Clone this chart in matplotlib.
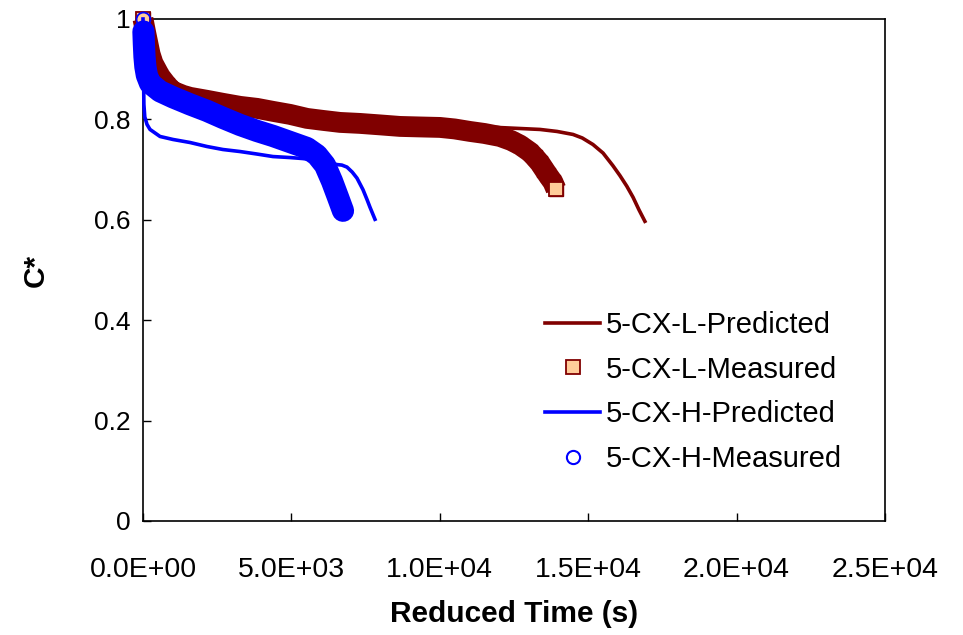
import numpy as np
import matplotlib.pyplot as plt
from matplotlib.lines import Line2D

plt.rcParams['font.family'] = ['Liberation Sans', 'DejaVu Sans']

# 5-CX-L predicted breakthrough curve
t_l_pred = [0, 40, 120, 300, 700, 1500, 3000, 5000, 7000, 9000, 10500, 11930,
            13375, 13950, 14490, 14800, 15160, 15500, 15830, 16070, 16300, 16510,
            16710, 16910]
c_l_pred = [1.000, 0.930, 0.900, 0.880, 0.860, 0.840, 0.825, 0.810, 0.798, 0.790, 0.786,
            0.784, 0.780, 0.776, 0.770, 0.763, 0.750, 0.733, 0.708, 0.688, 0.667, 0.645,
            0.620, 0.597]

# 5-CX-L measured
t_l_meas = [0, 100, 170, 240, 337, 573, 809, 1011, 1348, 1583, 2156, 2695, 3268, 3841,
            4380, 4952, 5525, 6064, 6637, 7311, 8000, 8660, 9300, 10006, 10500, 11017,
            11500, 12027, 12400, 12700, 13038, 13200, 13375, 13520, 13645, 13813, 13914]
c_l_meas = [1.000, 0.970, 0.950, 0.930, 0.912, 0.886, 0.868, 0.856, 0.848, 0.844, 0.838,
            0.832, 0.826, 0.822, 0.816, 0.810, 0.802, 0.798, 0.794, 0.792, 0.789, 0.786,
            0.785, 0.784, 0.781, 0.776, 0.772, 0.766, 0.758, 0.749, 0.735, 0.725, 0.713,
            0.700, 0.689, 0.675, 0.661]

# 5-CX-H predicted
t_h_pred = [0, 15, 30, 60, 135, 236, 573, 1011, 1583, 2156, 2695, 3268, 3841, 4380,
            4952, 5390, 5900, 6300, 6536, 6700, 6873, 7050, 7210, 7412, 7550, 7648, 7816]
c_h_pred = [1.000, 0.900, 0.830, 0.805, 0.790, 0.780, 0.766, 0.760, 0.754, 0.746, 0.740,
            0.736, 0.731, 0.726, 0.724, 0.722, 0.718, 0.714, 0.710, 0.709, 0.705, 0.695,
            0.683, 0.660, 0.640, 0.625, 0.601]

# 5-CX-H measured
t_h_meas = [0, 15, 30, 50, 80, 130, 236, 573, 1011, 1583, 2156, 2695, 3268, 3841,
            4380, 4952, 5525, 5862, 6132, 6367, 6570, 6738]
c_h_meas = [1.000, 0.975, 0.950, 0.925, 0.905, 0.888, 0.872, 0.856, 0.844, 0.830, 0.817,
            0.803, 0.789, 0.777, 0.767, 0.755, 0.743, 0.729, 0.709, 0.677, 0.645, 0.618]

x_ticks = [0, 5000, 10000, 15000, 20000, 25000]
x_labels = ['0.0E+00', '5.0E+03', '1.0E+04', '1.5E+04', '2.0E+04', '2.5E+04']
y_ticks = [0, 0.2, 0.4, 0.6, 0.8, 1.0]
y_labels = ['0', '0.2', '0.4', '0.6', '0.8', '1']

series_names = ['5-CX-L-Predicted', '5-CX-L-Measured', '5-CX-H-Predicted', '5-CX-H-Measured']

DARKRED = '#800000'
PEACH = '#FFCC99'
BLUE = '#0000FF'

fig = plt.figure(figsize=(9.63, 6.35), dpi=100)
ax = fig.add_axes([143 / 963, 114 / 635, 742 / 963, 502 / 635])

# L series: the dense measured squares merge into a solid band
ax.plot(t_l_pred, c_l_pred, color=DARKRED, lw=2.6, zorder=2, clip_on=False)
ax.plot(t_l_meas, c_l_meas, color=DARKRED, lw=15, solid_capstyle='butt',
        solid_joinstyle='round', marker='s', ms=9.5, mfc=DARKRED, mec=DARKRED,
        zorder=3, clip_on=False)
ax.plot([t_l_meas[0], t_l_meas[-1]], [c_l_meas[0], c_l_meas[-1]], ls='none',
        marker='s', ms=9.5, mfc=PEACH, mec=DARKRED, mew=1.3, zorder=3.5, clip_on=False)

# H series
ax.plot(t_h_pred, c_h_pred, color=BLUE, lw=2.6, zorder=4, clip_on=False)
ax.plot(t_h_meas[1:], c_h_meas[1:], color=BLUE, lw=16, solid_capstyle='round',
        solid_joinstyle='round', marker='o', ms=10, mfc=BLUE, mec=BLUE,
        zorder=5, clip_on=False)
ax.plot(t_h_meas[:2], c_h_meas[:2], ls='none', marker='o', ms=10, mfc='none',
        mec=BLUE, mew=1.3, zorder=5.5, clip_on=False)

ax.set_xlim(0, 25000)
ax.set_ylim(0, 1)
ax.set_xticks(x_ticks)
ax.set_xticklabels(x_labels, fontsize=20.5)
ax.set_yticks(y_ticks)
ax.set_yticklabels(y_labels, fontsize=19)
ax.tick_params(axis='both', direction='in', length=6, width=1)
ax.tick_params(axis='x', pad=26)
ax.tick_params(axis='y', pad=9)
for sp in ax.spines.values():
    sp.set_linewidth(1.2)

ax.set_xlabel('Reduced Time (s)', fontsize=21.5, fontweight='bold', labelpad=12)
ax.set_ylabel('C*', fontsize=21.5, fontweight='bold', labelpad=32)

handles = [
    Line2D([], [], color=DARKRED, lw=2.6),
    Line2D([], [], ls='none', marker='s', ms=9.5, mfc=PEACH, mec=DARKRED, mew=1.3),
    Line2D([], [], color=BLUE, lw=2.6),
    Line2D([], [], ls='none', marker='o', ms=9.5, mfc='white', mec=BLUE, mew=1.5),
]
ax.legend(handles, series_names, loc='upper left', bbox_to_anchor=(545 / 963, 1 - 311 / 635),
          bbox_transform=fig.transFigure, frameon=False, fontsize=21,
          handlelength=1.9, handletextpad=0.2, labelspacing=0.57,
          borderpad=0, borderaxespad=0)

fig.savefig('out.png', dpi=100)
